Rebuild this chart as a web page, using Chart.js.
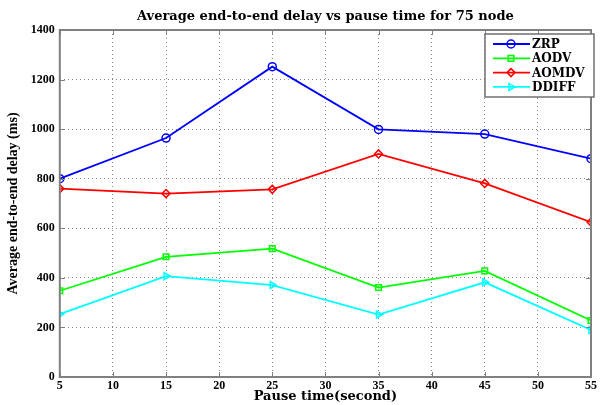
<!DOCTYPE html>
<html>
<head>
<meta charset="utf-8">
<script src="https://cdn.jsdelivr.net/npm/chart.js@4"></script>
<style>
  html, body { margin: 0; padding: 0; background: #fff; }
  #wrap { width: 600px; height: 405px; }
</style>
</head>
<body>
<div id="wrap"><canvas id="delay"></canvas></div>
<script>
// pause time (s) and delay (ms) per protocol
const pauseTime = [5, 15, 25, 35, 45, 55];
const zrp   = [800, 964, 1252, 999, 980, 881];
const aodv  = [348, 485, 518, 361, 428, 228];
const aomdv = [760, 740, 757, 900, 781, 625];
const ddiff = [254, 407, 371, 252, 382, 190];
const xTicks = [5, 10, 15, 20, 25, 30, 35, 40, 45, 50, 55];
const yTicks = [0, 200, 400, 600, 800, 1000, 1200, 1400];
const chartTitle = 'Average end-to-end delay vs pause time for 75 node';
const xTitle = 'Pause time(second)';

const serif = "'Liberation Serif', 'Times New Roman', serif";
const wideSerif = "'DejaVu Serif', serif";

function toPoints(vals) {
  return pauseTime.map((x, i) => ({ x: x, y: vals[i] }));
}

function series(label, vals, color, shape, rot) {
  return {
    label: label,
    data: toPoints(vals),
    borderColor: color,
    backgroundColor: 'rgba(255,255,255,0)',
    borderWidth: 1.8,
    pointStyle: shape,
    pointRotation: rot || 0,
    pointRadius: 4,
    pointBorderWidth: 1.5,
    pointBackgroundColor: 'rgba(255,255,255,0)',
    tension: 0
  };
}

// box around the axes plus inward tick marks, matlab style
const axesBox = {
  id: 'axesBox',
  afterDatasetsDraw(chart) {
    const { ctx, chartArea: a, scales } = chart;
    ctx.save();
    ctx.strokeStyle = '#808080';
    ctx.lineWidth = 1;
    xTicks.forEach(t => {
      const px = Math.round(scales.x.getPixelForValue(t)) + 0.5;
      ctx.beginPath();
      ctx.moveTo(px, a.bottom); ctx.lineTo(px, a.bottom - 5);
      ctx.moveTo(px, a.top); ctx.lineTo(px, a.top + 5);
      ctx.stroke();
    });
    yTicks.forEach(t => {
      const py = Math.round(scales.y.getPixelForValue(t)) + 0.5;
      ctx.beginPath();
      ctx.moveTo(a.left, py); ctx.lineTo(a.left + 5, py);
      ctx.moveTo(a.right, py); ctx.lineTo(a.right - 5, py);
      ctx.stroke();
    });
    ctx.lineWidth = 2;
    ctx.strokeRect(a.left, a.top, a.right - a.left, a.bottom - a.top);

    // titles centred on the axes rather than the canvas
    ctx.fillStyle = '#000';
    ctx.font = 'bold 13px ' + wideSerif;
    ctx.textAlign = 'center';
    ctx.textBaseline = 'middle';
    const cx = (a.left + a.right) / 2;
    ctx.fillText(chartTitle, cx, a.top - 13);
    ctx.fillText(xTitle, cx, a.bottom + 20);
    ctx.restore();
  }
};

// legend drawn inside the top right corner of the plot
const innerLegend = {
  id: 'innerLegend',
  afterDraw(chart) {
    const { ctx, chartArea: a } = chart;
    const w = 109, rowH = 14.3, h = 63;
    const x0 = a.right - 106, y0 = a.top + 4;
    ctx.save();
    ctx.fillStyle = '#fff';
    ctx.fillRect(x0, y0, w, h);
    ctx.strokeStyle = '#707070';
    ctx.lineWidth = 1.5;
    ctx.strokeRect(x0, y0, w, h);
    ctx.textBaseline = 'middle';
    chart.data.datasets.forEach((ds, i) => {
      const cy = y0 + 10 + i * rowH;
      ctx.strokeStyle = ds.borderColor;
      ctx.lineWidth = 1.8;
      ctx.beginPath();
      ctx.moveTo(x0 + 8, cy); ctx.lineTo(x0 + 45, cy);
      ctx.stroke();
      ctx.lineWidth = 1.5;
      ctx.fillStyle = 'rgba(255,255,255,0)';
      Chart.helpers.drawPoint(ctx, {
        pointStyle: ds.pointStyle,
        rotation: ds.pointRotation,
        radius: ds.pointRadius,
        borderWidth: 1.5
      }, x0 + 26, cy);
      ctx.fillStyle = '#000';
      ctx.font = 'bold 12px ' + wideSerif;
      ctx.fillText(ds.label, x0 + 47, cy + 1);
    });
    ctx.restore();
  }
};

new Chart(document.getElementById('delay'), {
  type: 'line',
  data: {
    datasets: [
      series('ZRP', zrp, '#0000ff', 'circle'),
      series('AODV', aodv, '#00ff00', 'rect'),
      series('AOMDV', aomdv, '#ff0000', 'rectRot'),
      series('DDIFF', ddiff, '#00ffff', 'triangle', 90)
    ]
  },
  options: {
    responsive: true,
    maintainAspectRatio: false,
    animation: false,
    layout: { padding: { top: 30, right: 1, left: 5, bottom: 10 } },
    plugins: {
      legend: { display: false },
      tooltip: { enabled: false },
      title: { display: false }
    },
    scales: {
      x: {
        type: 'linear',
        min: 5, max: 55,
        afterBuildTicks: s => { s.ticks = xTicks.map(v => ({ value: v })); },
        grid: { color: '#8a8a8a', drawTicks: false, lineWidth: 1 },
        border: { display: false, dash: [1, 3] },
        ticks: {
          color: '#000', padding: 3, maxRotation: 0,
          font: { family: serif, size: 12, weight: 'bold', lineHeight: 1 }
        }
      },
      y: {
        type: 'linear',
        min: 0, max: 1400,
        afterBuildTicks: s => { s.ticks = yTicks.map(v => ({ value: v })); },
        grid: { color: '#8a8a8a', drawTicks: false, lineWidth: 1 },
        border: { display: false, dash: [1, 3] },
        ticks: {
          color: '#000', padding: 5,
          callback: v => String(v),
          font: { family: serif, size: 12, weight: 'bold' }
        },
        title: {
          display: true, text: 'Average end-to-end delay (ms)', color: '#000',
          font: { family: serif, size: 14, weight: 'bold' }, padding: { top: 0, bottom: 4 }
        }
      }
    }
  },
  plugins: [axesBox, innerLegend]
});
</script>
</body>
</html>
